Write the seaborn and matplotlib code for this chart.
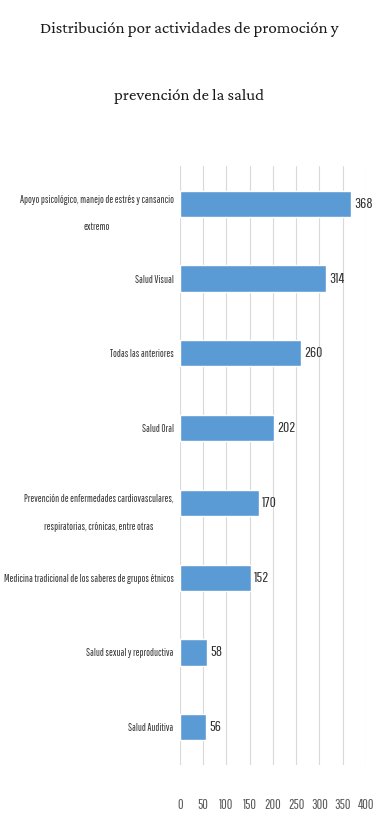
import matplotlib
matplotlib.use("Agg")
import matplotlib.pyplot as plt
import seaborn as sns
import pandas as pd

categorias = [
    "Apoyo psicológico, manejo de estrés y cansancio\nextremo",
    "Salud Visual",
    "Todas las anteriores",
    "Salud Oral",
    "Prevención de enfermedades cardiovasculares,\nrespiratorias, crónicas, entre otras",
    "Medicina tradicional de los saberes de grupos étnicos",
    "Salud sexual y reproductiva",
    "Salud Auditiva",
]
valores = [368, 314, 260, 202, 170, 152, 58, 56]
ticks = [0, 50, 100, 150, 200, 250, 300, 350, 400]

sns.set_theme(style="white")
plt.rcParams["font.family"] = ["Pathway Gothic One", "DejaVu Sans"]

df = pd.DataFrame({"actividad": categorias, "total": valores})

fig = plt.figure(figsize=(3.78, 8.32), dpi=100)
ax = fig.add_axes([0.476, 0.081, 0.492, 0.719])

sns.barplot(data=df, x="total", y="actividad", color="#5b9bd5", width=0.35,
            saturation=1, ax=ax)

ax.set_xlim(0, 400)
ax.set_xticks(ticks)
ax.grid(axis="x", color="#d9d9d9", linewidth=0.8)
ax.set_axisbelow(True)
for s in ax.spines.values():
    s.set_visible(False)
ax.set_xlabel("")
ax.set_ylabel("")
ax.tick_params(axis="x", pad=24, labelsize=10, colors="#595959", length=0)
ax.tick_params(axis="y", pad=4.5, labelsize=7.4, colors="#333333", length=0)
for lab in ax.get_yticklabels():
    lab.set_multialignment("center")
    lab.set_linespacing(3.2)

for i, v in enumerate(valores):
    ax.text(v + 7, i, str(v), va="center", ha="left", fontsize=11, color="#333333")

# titulo en dos lineas, como el original
for y, linea in [(0.960, "Distribución por actividades de promoción y"),
                 (0.880, "prevención de la salud")]:
    fig.text(0.5, y, linea, ha="center", va="baseline", fontsize=12.2, color="#1a1a1a",
             family=["Crimson Pro", "DejaVu Serif"])

fig.savefig("out.png", dpi=100)
